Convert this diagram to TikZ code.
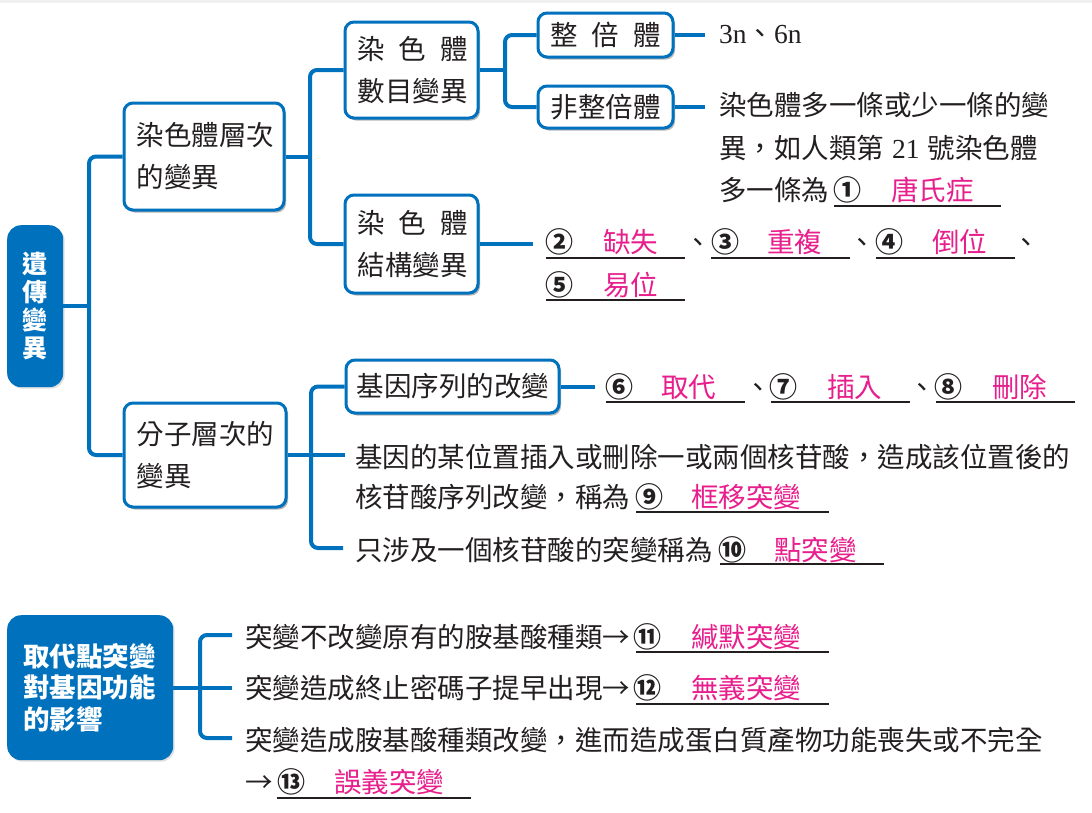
\documentclass[tikz,border=0pt]{standalone}
\usepackage{fontspec}
\setmainfont{Noto Sans CJK TC}
\newfontfamily\lat{Liberation Serif}
\usetikzlibrary{shadows}
\definecolor{myblue}{RGB}{0,113,188}
\definecolor{txtc}{RGB}{35,31,32}
\definecolor{pk}{RGB}{232,30,140}
\newcommand\myfb{\fontsize{27.5}{42}\selectfont}
\newcommand\mynum{\bfseries\fontsize{28}{28}\selectfont}
\newcommand\myhb{\bfseries\fontsize{26.5}{31.5}\selectfont}
\begin{document}
\begin{tikzpicture}[x=1pt,y=-1pt,
 wbox/.style={draw=myblue,line width=3pt,fill=white,rounded corners=9pt,
   drop shadow={shadow xshift=2pt,shadow yshift=-2.5pt,opacity=0.4,fill=black!70},
   anchor=north west,inner xsep=12.5pt,inner ysep=0pt,align=left,font=\myfb,text=txtc},
 bbox/.style={fill=myblue,rounded corners=14pt,
   drop shadow={shadow xshift=1.5pt,shadow yshift=-1.5pt,opacity=0.25},
   anchor=north west,inner ysep=0pt,text=white},
 con/.style={draw=myblue,line width=4pt,rounded corners=7pt},
 tx/.style={anchor=base west,inner sep=0pt,font=\myfb,text=txtc},
 ans/.style={tx,text=pk},
 num/.style={anchor=base,inner sep=0pt,font=\mynum,text=txtc},
 pu/.style={anchor=base,inner sep=0pt,font=\myfb,text=txtc},
 ul/.style={draw=txtc,line width=1.3pt}]
\useasboundingbox (0,0) rectangle (1092,812);
\fill[white] (0,0) rectangle (1092,812);
\fill[gray!12] (0,0) rectangle (1092,2.5);

% boxes
\node[bbox,inner xsep=13pt,text width=30pt,minimum height=162pt,align=center,
  font=\bfseries\fontsize{25}{28}\selectfont] (root) at (7,225) {遺\\傳\\變\\異};
\node[wbox,text width=135pt,minimum height=107pt] (c1) at (122.5,101.5) {染色體層次\\的變異};
\node[wbox,text width=137pt,minimum height=104pt] (m1) at (122.5,401.5) {分子層次的\\變異};
\node[wbox,text width=108pt,minimum height=96pt] (cn) at (343.5,20.5)
  {\makebox[110pt][l]{染\hfill 色\hfill 體}\\數目變異};
\node[wbox,text width=108pt,minimum height=98pt] (cs) at (343.5,193.5)
  {\makebox[110pt][l]{染\hfill 色\hfill 體}\\結構變異};
\node[wbox,text width=110pt,minimum height=44pt] (e1) at (536.5,11.5)
  {\makebox[110pt][l]{整\hfill 倍\hfill 體}};
\node[wbox,text width=110pt,minimum height=42pt] (e2) at (536.5,84.5) {非整倍體};
\node[wbox,inner xsep=10.5pt,text width=192pt,minimum height=53pt] (g1) at (344.5,358.5) {基因序列的改變};
\node[bbox,inner xsep=16pt,text width=134pt,minimum height=145pt,align=left,font=\myhb] (q) at (7,615)
  {取代點突變\\對基因功能\\的影響};

% trunk coordinates and free ends
\coordinate (t0) at (89,0);
\coordinate (t1) at (310,0);
\coordinate (t2) at (505,0);
\coordinate (t3) at (311,0);
\coordinate (t4) at (200,0);
\coordinate (f1) at (705,0);
\coordinate (f2) at (533,0);
\coordinate (f3) at (595,0);
\coordinate (k3) at (343,548);
\coordinate (b1) at (232,635);
\coordinate (b3) at (232,738);

% connectors
\draw[con] (root.east) -- (root.east -| t0);
\draw[con] (c1.west) -- (c1.west -| t0) -- (m1.west -| t0) -- (m1.west);
\draw[con] (c1.east) -- (c1.east -| t1);
\draw[con] (cn.west) -- (cn.west -| t1) -- (cs.west -| t1) -- (cs.west);
\draw[con] (cn.east) -- (cn.east -| t2);
\draw[con] (e1.west) -- (e1.west -| t2) -- (e2.west -| t2) -- (e2.west);
\draw[con] (e1.east) -- (e1.east -| f1);
\draw[con] (e2.east) -- (e2.east -| f1);
\draw[con] (cs.east) -- (cs.east -| f2);
\draw[con] (m1.east) -- (m1.east -| g1.west);
\draw[con] (g1.west) -- (g1.west -| t3) -- (k3 -| t3) -- (k3);
\draw[con] (g1.east) -- (g1.east -| f3);
\draw[con] (q.east) -- (q.east -| b1);
\draw[con] (b1) -- (b1 -| t4) -- (b3 -| t4) -- (b3);

% texts: chromosome number
\node[tx] (n3n) at (719,43) {{\lat 3n}、{\lat 6n}};
\node[tx] (a1) at (719,115.5) {染色體多一條或少一條的變};
\node[tx] (a2) at (719,158.5) {異，如人類第\hspace{8pt}{\lat 21}\hspace{8pt}號染色體};
\node[tx] (a3) at (719,200.5) {多一條為};
\node[num] (o1) at (847,200) {①};
\draw[ul] (834,206) -- (1001,206);
\node[ans] (w1) at (891,200.5) {唐氏症};

% structure
\node[num] (o2) at (559,252) {②};
\draw[ul] (546,258) -- (685,258);
\node[ans] (w2) at (603,252.5) {缺失};
\node[pu] (p1) at (698,252.5) {、};
\node[num] (o3) at (725,252) {③};
\draw[ul] (711,258) -- (850,258);
\node[ans] (w3) at (767,252.5) {重複};
\node[pu] (p2) at (862,252.5) {、};
\node[num] (o4) at (889,252) {④};
\draw[ul] (876,258) -- (1015,258);
\node[ans] (w4) at (932,252.5) {倒位};
\node[pu] (p3) at (1026,252.5) {、};
\node[num] (o5) at (559,295) {⑤};
\draw[ul] (546,300) -- (685,300);
\node[ans] (w5) at (603,295.5) {易位};

% gene sequence
\node[num] (o6) at (619,397) {⑥};
\draw[ul] (606,402) -- (745,402);
\node[ans] (w6) at (661,397.5) {取代};
\node[pu] (p4) at (758,397.5) {、};
\node[num] (o7) at (783,397) {⑦};
\draw[ul] (771,402) -- (910,402);
\node[ans] (w7) at (827,397.5) {插入};
\node[pu] (p5) at (922,397.5) {、};
\node[num] (o8) at (948,397) {⑧};
\draw[ul] (936,402) -- (1075,402);
\node[ans] (w8) at (992,397.5) {刪除};

\node[tx] (b1t) at (355,467.5) {基因的某位置插入或刪除一或兩個核苷酸，造成該位置後的};
\node[tx] (b2t) at (355,507.5) {核苷酸序列改變，稱為};
\node[num] (o9) at (649,507) {⑨};
\draw[ul] (636,512) -- (829,512);
\node[ans] (w9) at (691,507.5) {框移突變};
\node[tx] (b3t) at (355,560.5) {只涉及一個核苷酸的突變稱為};
\node[num] (o10) at (732,560) {⑩};
\draw[ul] (720,564) -- (884,564);
\node[ans] (w10) at (774,560.5) {點突變};

% substitution
\node[tx] (s1) at (245,647.5) {突變不改變原有的胺基酸種類→};
\node[num] (o11) at (647,647) {⑪};
\draw[ul] (636,652) -- (829,652);
\node[ans] (w11) at (691,647.5) {緘默突變};
\node[tx] (s2) at (245,698.5) {突變造成終止密碼子提早出現→};
\node[num] (o12) at (647,698) {⑫};
\draw[ul] (636,704) -- (829,704);
\node[ans] (w12) at (691,698.5) {無義突變};
\node[tx] (s3) at (245,750.5) {突變造成胺基酸種類改變，進而造成蛋白質產物功能喪失或不完全};
\node[tx] (s4) at (245,792.5) {→};
\node[num] (o13) at (291,792) {⑬};
\draw[ul] (277,798) -- (471,798);
\node[ans] (w13) at (334,792.5) {誤義突變};
\end{tikzpicture}
\end{document}
